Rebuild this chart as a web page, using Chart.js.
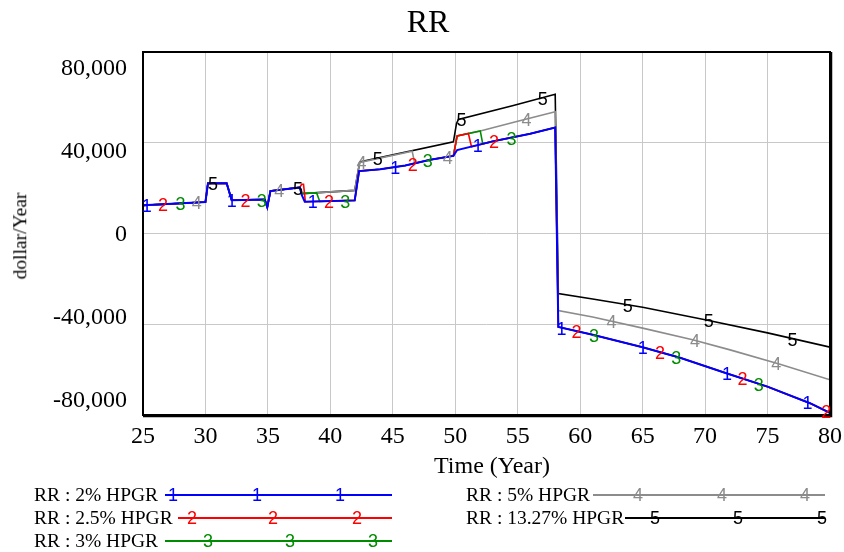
<!DOCTYPE html>
<html><head><meta charset="utf-8">
<script src="https://cdn.jsdelivr.net/npm/chart.js@4/dist/chart.umd.min.js"></script>
<style>
html,body{margin:0;padding:0;background:#fff;}
#wrap{position:relative;width:844px;height:552px;overflow:hidden;font-family:"Liberation Serif","Times New Roman",serif;color:#000;}
#c{position:absolute;left:0;top:0;}
.t{position:absolute;white-space:nowrap;line-height:1;transform:translate(-50%,-50%);}
.lt{position:absolute;white-space:nowrap;line-height:1;transform:translate(0,-50%);font-size:19.5px;}
.ln{position:absolute;height:1.5px;}
.mk{position:absolute;line-height:1;transform:translate(-50%,-56%);font-family:"Liberation Sans",Arial,sans-serif;font-size:18px;}
</style></head><body>
<div id="wrap">
<canvas id="c" width="844" height="552"></canvas>
<div class="t" id="title" style="left:428px;top:21px;font-size:32px;">RR</div>
<div class="t" id="xtitle" style="left:492px;top:465px;font-size:24px;">Time (Year)</div>
<div class="t" id="ytitle" style="left:20px;top:236px;font-size:19.5px;transform:translate(-50%,-50%) rotate(-90deg);">dollar/Year</div>
</div>
<script>
// ---- data ----
const seriesNames = ["RR : 2% HPGR","RR : 2.5% HPGR","RR : 3% HPGR","RR : 5% HPGR","RR : 13.27% HPGR"];
const seriesMarks = ["1","2","3","4","5"];
const seriesColors = ["#0000ff","#ff0000","#008c00","#8c8c8c","#000000"];

const xTickValues = [25,30,35,40,45,50,55,60,65,70,75,80];
const yTickValues = [80000,40000,0,-40000,-80000];
const yTickLabels = ["80,000","40,000","0","-40,000","-80,000"];

const hpgr2Time  = [25,30,30.2,31.7,32.1,34.75,34.95,35.2,37.55,37.7,37.95,41.95,42.3,44,46,48,49.85,50.15,53,56,58,58.25,61,65,68,71.7,75,78.4,80];
const hpgr2Value = [12400,13900,22100,22100,14700,15000,11600,18700,20300,17100,14000,14600,27500,28300,30000,32500,34200,36800,40600,44000,46700,-41200,-44600,-50100,-54800,-61600,-67500,-74800,-79100];

const hpgr25Time  = [25,30,30.2,31.7,32.1,34.75,34.95,35.2,37.55,37.7,37.85,38.0,41.95,42.3,44,46,48,49.85,50.15,51.05,51.3,53,56,58,58.25,61,65,68,71.7,75,78.4,80];
const hpgr25Value = [12400,13900,22100,22100,14700,15000,11600,18700,20300,21700,21700,14000,14600,27500,28300,30000,32500,34200,43000,44100,38200,40600,44000,46700,-41200,-44600,-50100,-54800,-61600,-67500,-74800,-79100];

const hpgr3Time  = [25,30,30.2,31.7,32.1,34.75,34.95,35.2,37.55,37.7,38.9,39.15,41.95,42.3,44,46,48,49.85,50.15,52.0,52.2,53,56,58,58.25,61,65,68,71.7,75,78.4,80];
const hpgr3Value = [12400,13900,22100,22100,14700,15000,11600,18700,20300,17700,17900,14100,14600,27500,28300,30000,32500,34200,43000,45200,39500,40600,44000,46700,-41200,-44600,-50100,-54800,-61600,-67500,-74800,-79100];

const hpgr5Time  = [25,30,30.2,31.7,32.1,34.75,34.95,35.2,37.55,37.75,41.95,42.35,46.55,46.75,48,49.85,50.15,52,55,58,58.25,61,65,69,72,76,80];
const hpgr5Value = [12400,13900,22100,22100,14700,15000,11600,18700,20300,17600,19000,31300,36300,30900,32500,34200,43000,45200,49500,53700,-34000,-36800,-41700,-46800,-51300,-57600,-64500];

const hpgr1327Time  = [25,30,30.2,31.7,32.1,34.75,34.95,35.2,37.55,37.75,41.95,42.35,49.85,50.1,50.25,54.65,58,58.25,61,65,70,75,80];
const hpgr1327Value = [12400,13900,22100,22100,14700,15000,11600,18700,20300,17600,19000,31500,40400,48500,50300,56400,61400,-26500,-28900,-32500,-38000,-43800,-50100];

// years at which the numbered marker of each run is printed on its curve
const mark1Years = [25.3,32.1,38.6,45.2,51.8,58.5,65.0,71.75,78.2];
const mark2Years = [26.6,33.2,39.9,46.6,53.1,59.7,66.4,73.0,79.7];
const mark3Years = [28.0,34.5,41.2,47.8,54.5,61.1,67.7,74.3];
const mark4Years = [29.3,35.9,42.5,49.4,55.7,62.5,69.2,75.7];
const mark5Years = [30.6,37.4,43.8,50.5,57.0,63.8,70.3,77.0];

const seriesTimes  = [hpgr2Time,hpgr25Time,hpgr3Time,hpgr5Time,hpgr1327Time];
const seriesValues = [hpgr2Value,hpgr25Value,hpgr3Value,hpgr5Value,hpgr1327Value];
const seriesMarkYears = [mark1Years,mark2Years,mark3Years,mark4Years,mark5Years];
const seriesWidths = [2,1.6,1.6,1.6,1.6];

// ---- helpers ----
function valueAt(ts, vs, t){
  for(let i=0;i<ts.length-1;i++){
    if(t>=ts[i] && t<=ts[i+1]){
      const f=(t-ts[i])/(ts[i+1]-ts[i]);
      return vs[i]+f*(vs[i+1]-vs[i]);
    }
  }
  return vs[vs.length-1];
}

const datasets = seriesNames.map((n,i)=>({
  label:n,
  data: seriesTimes[i].map((t,k)=>({x:t,y:seriesValues[i][k]})),
  borderColor: seriesColors[i],
  backgroundColor: seriesColors[i],
  borderWidth: seriesWidths[i],
  pointRadius:0,
  tension:0,
  fill:false
}));

const PLOT = {left:143, top:52, right:830, bottom:415};

const decor = {
  id:'decor',
  afterDatasetsDraw(chart){
    const {ctx, chartArea:a, scales:{x,y}} = chart;
    ctx.save();
    // frame
    ctx.strokeStyle='#000';
    ctx.lineWidth=2;
    ctx.strokeRect(a.left, a.top, a.right-a.left, a.bottom-a.top);
    ctx.lineWidth=1.5;
    ctx.beginPath();
    ctx.moveTo(a.right+1.5, a.top); ctx.lineTo(a.right+1.5, a.bottom+1.5);
    ctx.lineTo(a.left, a.bottom+1.5);
    ctx.stroke();
    // numbered curve markers
    ctx.font='18px "Liberation Sans", Arial, sans-serif';
    ctx.textAlign='center'; ctx.textBaseline='middle';
    for(let i=seriesNames.length-1;i>=0;i--){
      ctx.fillStyle=seriesColors[i];
      seriesMarkYears[i].forEach(t=>{
        const v=valueAt(seriesTimes[i],seriesValues[i],t);
        ctx.fillText(seriesMarks[i], x.getPixelForValue(t), y.getPixelForValue(v)+2);
      });
    }
    // y tick labels (Vensim places them slightly inside the range)
    ctx.fillStyle='#000';
    ctx.font='24px "Liberation Serif", "Times New Roman", serif';
    ctx.textAlign='right';
    const mid=(a.top+a.bottom)/2;
    yTickValues.forEach((v,i)=>{
      const py=y.getPixelForValue(v);
      ctx.fillText(yTickLabels[i], 127, mid+1+(py-mid)*0.915);
    });
    ctx.restore();
  }
};

new Chart(document.getElementById('c'),{
  type:'line',
  data:{datasets},
  options:{
    responsive:false,
    animation:false,
    devicePixelRatio:1,
    layout:{padding:{left:0,top:PLOT.top,right:844-PLOT.right,bottom:0}},
    plugins:{legend:{display:false},tooltip:{enabled:false},title:{display:false}},
    scales:{
      x:{
        type:'linear', min:25, max:80,
        afterBuildTicks:(s)=>{s.ticks=xTickValues.map(v=>({value:v}));},
        afterFit:(s)=>{s.height=552-PLOT.bottom; s.paddingLeft=0; s.paddingRight=0;},
        ticks:{color:'#000',font:{family:'"Liberation Serif", "Times New Roman", serif',size:24},padding:7,maxRotation:0,autoSkip:false},
        grid:{color:'#c8c8c8',lineWidth:1,drawTicks:false},
        border:{display:false}
      },
      y:{
        type:'linear', min:-80000, max:80000,
        afterBuildTicks:(s)=>{s.ticks=yTickValues.map(v=>({value:v}));},
        afterFit:(s)=>{s.width=PLOT.left; s.paddingTop=0; s.paddingBottom=0;},
        ticks:{display:false},
        grid:{color:'#c8c8c8',lineWidth:1,drawTicks:false},
        border:{display:false}
      }
    }
  },
  plugins:[decor]
});

// ---- legend (HTML) ----
const wrap=document.getElementById('wrap');
const legendRows=[
  {text:34, y:495, l1:165, l2:392, marks:[173,257,340]},
  {text:34, y:518, l1:178, l2:392, marks:[192,273,357]},
  {text:34, y:541, l1:165, l2:392, marks:[208,290,373]},
  {text:466, y:495, l1:593, l2:825, marks:[638,722,805]},
  {text:466, y:518, l1:625, l2:825, marks:[655,738,822]}
];
legendRows.forEach((r,i)=>{
  const t=document.createElement('div');
  t.className='lt'; t.style.left=r.text+'px'; t.style.top=r.y+'px';
  t.textContent=seriesNames[i];
  wrap.appendChild(t);
  const l=document.createElement('div');
  l.className='ln'; l.style.left=r.l1+'px'; l.style.width=(r.l2-r.l1)+'px';
  l.style.top=(r.y-0.75)+'px'; l.style.background=seriesColors[i];
  wrap.appendChild(l);
  r.marks.forEach(mx=>{
    const m=document.createElement('div');
    m.className='mk'; m.style.left=mx+'px'; m.style.top=(r.y+1)+'px';
    m.style.color=seriesColors[i]; m.textContent=seriesMarks[i];
    wrap.appendChild(m);
  });
});
</script>
</body></html>
